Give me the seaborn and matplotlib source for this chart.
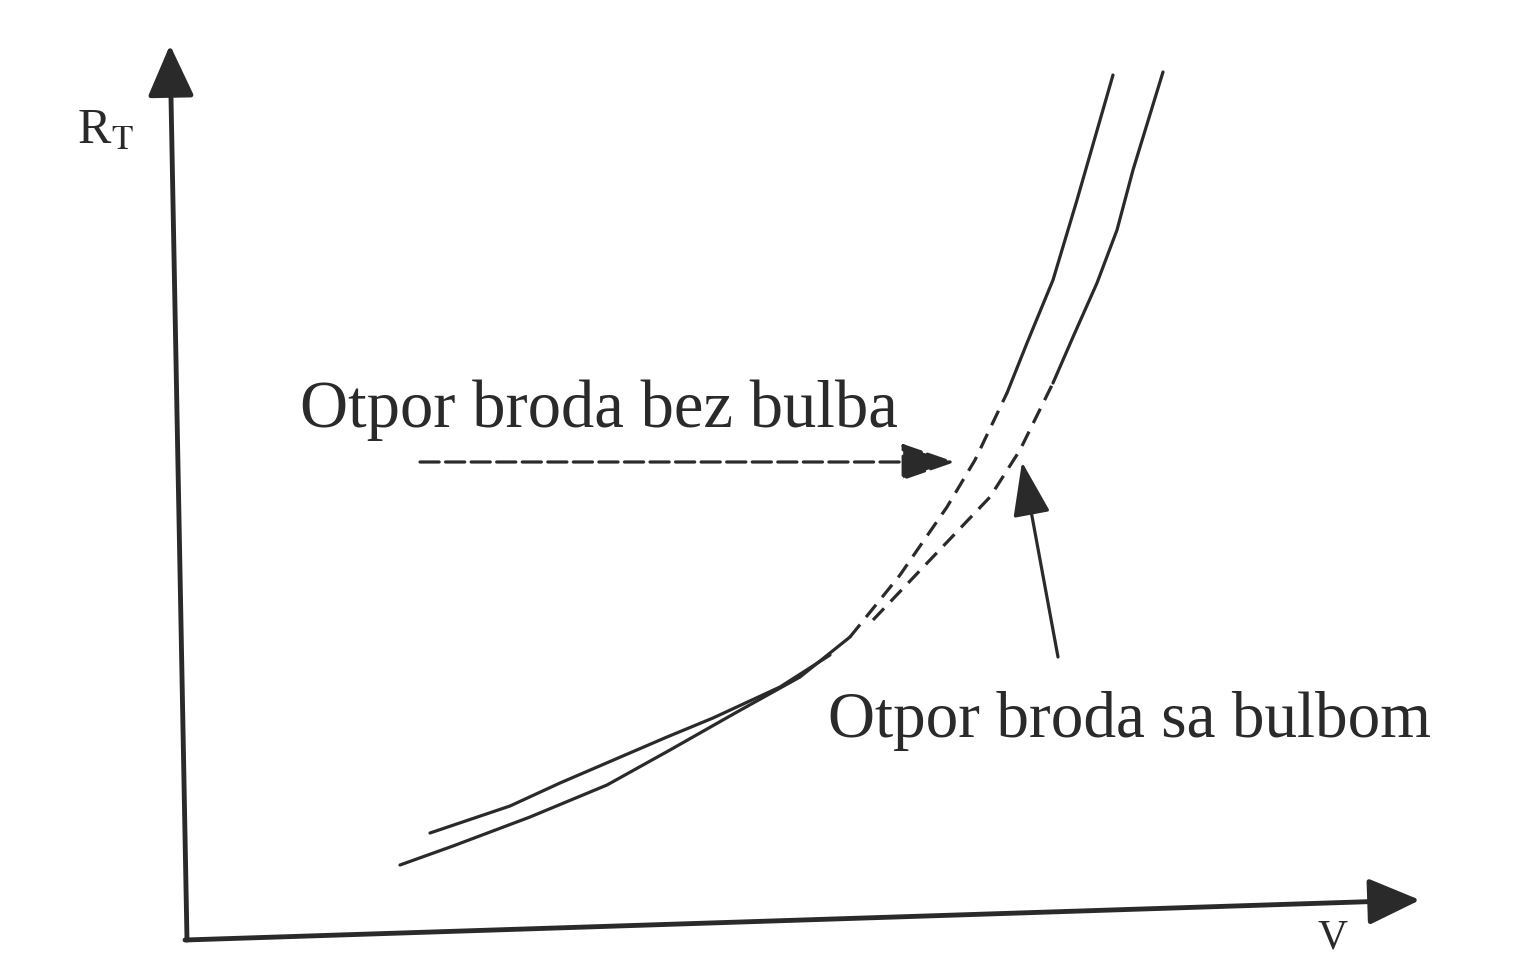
import matplotlib
matplotlib.use('Agg')
import matplotlib.pyplot as plt
import numpy as np
import pandas as pd
import seaborn as sns

# ── Data (arbitrary units) ─────────────────────────────────────────────────────
v_bez = [2.15, 2.68, 3.45, 4.22, 4.85, 5.52, 6.15, 6.65, 7.15, 7.62, 7.90,
         8.22, 8.42, 8.68, 8.92, 9.28]
r_bez = [0.75, 0.94, 1.23, 1.55, 1.90, 2.28, 2.63, 3.03, 3.65, 4.33, 4.80,
         5.47, 5.97, 6.60, 7.40, 8.65]

v_sa = [2.45, 3.25, 3.75, 4.82, 5.28, 5.95, 6.45, 6.88, 7.45, 8.05, 8.35,
        8.68, 8.88, 9.12, 9.32, 9.48, 9.78]
r_sa = [1.07, 1.34, 1.57, 2.03, 2.22, 2.53, 2.85, 3.20, 3.80, 4.43, 4.90,
        5.57, 6.03, 6.57, 7.10, 7.70, 8.68]

label_bez = 'Otpor broda bez bulba'
label_sa = 'Otpor broda sa bulbom'

df = pd.concat([
    pd.DataFrame({'V': v_bez, 'R': r_bez, 'curve': label_bez}),
    pd.DataFrame({'V': v_sa, 'R': r_sa, 'curve': label_sa}),
], ignore_index=True)

# ── Style ──────────────────────────────────────────────────────────────────────
sns.set_style('white')
plt.rcParams['font.family'] = ['Liberation Serif', 'DejaVu Serif']
plt.rcParams['mathtext.fontset'] = 'stix'

ink = '#2a2a2a'

fig = plt.figure(figsize=(15.28, 9.8), dpi=100)
ax = fig.add_axes([0, 0, 1, 1])

# curves: solid at low/high speed, dashed where they cross
for name in [label_bez, label_sa]:
    sub = df[df['curve'] == name]
    low = sub[sub['R'] <= 3.1]
    dash = sub[(sub['R'] >= 3.0) & (sub['R'] <= 5.6)]
    high = sub[sub['R'] >= 5.4]
    sns.lineplot(data=low, x='V', y='R', sort=False, estimator=None,
                 color=ink, lw=2.3, ax=ax)
    sns.lineplot(data=dash, x='V', y='R', sort=False, estimator=None,
                 color=ink, lw=2.3, ax=ax, dashes=False, linestyle=(0, (5, 3)))
    sns.lineplot(data=high, x='V', y='R', sort=False, estimator=None,
                 color=ink, lw=2.3, ax=ax)

ax.set_xlim(-1.85, 13.43)
ax.set_ylim(-0.40, 9.40)
ax.axis('off')

# ── Hand-drawn style axes ──────────────────────────────────────────────────────
axis_arrow = dict(arrowstyle='-|>,head_length=1.0,head_width=0.45',
                  color=ink, lw=3.5, mutation_scale=32, shrinkA=0, shrinkB=0)
ax.annotate('', xy=(-0.15, 8.95), xytext=(0.02, 0.0), arrowprops=axis_arrow)
ax.annotate('', xy=(12.35, 0.40), xytext=(0.0, 0.0), arrowprops=axis_arrow)

ax.text(-1.08, 7.97, r'R$_\mathrm{T}$', fontsize=36, color=ink, va='baseline')
ax.text(11.33, -0.08, 'V', fontsize=30, color=ink, va='baseline')

# ── Labels with pointer arrows ─────────────────────────────────────────────────
ax.text(1.15, 5.13, label_bez, fontsize=48, color=ink, va='baseline')
ax.text(6.43, 2.03, label_sa, fontsize=47, color=ink, va='baseline')

ptr = dict(arrowstyle='-|>,head_length=1.3,head_width=0.45', color=ink,
           lw=2.3, mutation_scale=26, shrinkA=0, shrinkB=0)
ax.annotate('', xy=(7.70, 4.78), xytext=(2.35, 4.78),
            arrowprops=dict(ptr, linestyle=(0, (6, 2))))
ax.annotate('', xy=(8.37, 4.78), xytext=(8.73, 2.83), arrowprops=ptr)

plt.savefig('out.png', dpi=100)
plt.close()
